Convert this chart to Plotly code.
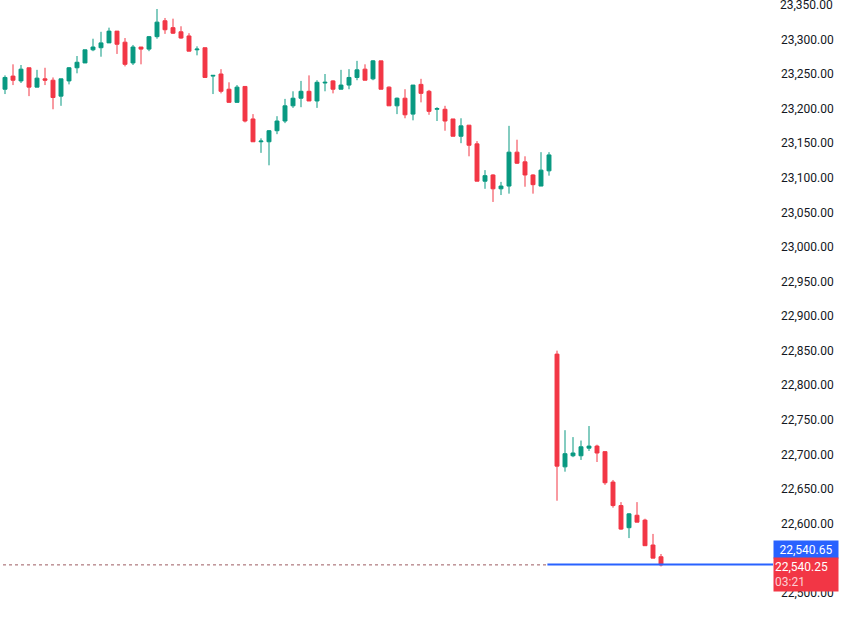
import plotly.graph_objects as go

opens = [23228,23247,23240,23259,23231,23243,23241,23218,23240,23259,23266,23285,23288,23295,23312,23296,23266,23289,23286,23304,
 23327,23317,23311,23305,23285,23288,23247,23250,23228,23209,23232,23185,23152,23152,23168,23182,23204,23215,23225,23211,
 23237,23240,23228,23234,23245,23257,23243,23269,23231,23204,23215,23192,23235,23225,23199,23199,23185,23160,23176,23149,
 23095,23104,23084,23088,23137,23123,23104,23088,23110,
 22845,22682,22698,22698,22709,22712,22704,22660,22626,22594,22612,22605,22569,22552]
highs = [23248,23264,23263,23259,23256,23259,23245,23243,23260,23276,23285,23301,23311,23317,23312,23302,23292,23289,23305,23344,
 23331,23330,23319,23309,23290,23288,23248,23257,23238,23234,23232,23192,23157,23169,23189,23214,23225,23240,23248,23241,
 23250,23241,23256,23257,23269,23264,23270,23269,23232,23216,23228,23234,23243,23227,23202,23204,23185,23186,23176,23153,
 23111,23105,23094,23175,23155,23131,23105,23137,23137,
 22850,22735,22725,22720,22741,22714,22704,22663,22631,22615,22631,22607,22585,22556]
lows = [23221,23234,23237,23218,23231,23234,23199,23204,23235,23251,23266,23283,23275,23295,23279,23261,23263,23264,23283,23301,
 23308,23308,23301,23283,23277,23245,23221,23222,23209,23209,23180,23152,23136,23118,23163,23179,23201,23202,23211,23201,
 23225,23222,23228,23228,23241,23241,23241,23228,23204,23192,23186,23183,23209,23191,23182,23168,23160,23150,23131,23095,
 23084,23065,23075,23077,23120,23087,23077,23088,23103,
 22633,22675,22696,22692,22705,22689,22656,22623,22591,22579,22602,22568,22550,22538]
closes = [23245,23241,23257,23231,23244,23241,23216,23243,23259,23267,23285,23289,23295,23312,23293,23264,23289,23286,23304,23325,
 23314,23309,23302,23283,23286,23245,23248,23225,23209,23231,23182,23152,23153,23168,23182,23204,23215,23225,23211,23238,
 23238,23228,23234,23245,23256,23241,23269,23228,23204,23215,23191,23234,23222,23196,23200,23182,23160,23175,23147,23095,
 23103,23084,23088,23137,23121,23104,23090,23111,23133,
 22683,22701,22702,22711,22712,22702,22659,22626,22592,22614,22602,22568,22550,22540.25]
x = list(range(len(opens)))
last_price = 22540.25
bid_price = 22540.65
tick_vals = list(range(22500, 23301, 50))
top_tick = 23350
session_start = 69

up, down, blue = "#089981", "#F23645", "#2962FF"
tickfont = dict(color="#131722", size=12, family="Roboto")

fig = go.Figure(go.Candlestick(
    x=x, open=opens, high=highs, low=lows, close=closes,
    increasing=dict(line=dict(color=up, width=1), fillcolor=up),
    decreasing=dict(line=dict(color=down, width=1), fillcolor=down),
    whiskerwidth=0, showlegend=False, hoverinfo="skip"))

fig.add_shape(type="line", xref="x", yref="y", x0=-1, x1=session_start - 1.2,
              y0=last_price, y1=last_price, line=dict(color="#9c5a60", width=1, dash="dot"))
fig.add_shape(type="line", xref="x", yref="y", x0=session_start - 1.2, x1=96,
              y0=bid_price, y1=bid_price, line=dict(color=blue, width=2))

fig.add_annotation(xref="paper", yref="y", x=1.0, y=top_tick, xanchor="left", yanchor="middle",
                   text=f"{top_tick:,.2f}", showarrow=False, font=tickfont, xshift=5)
fig.add_annotation(xref="paper", yref="y", x=1.0, y=22563, xanchor="left", yanchor="middle",
                   text=f"{bid_price:,.2f}", showarrow=False, bgcolor=blue,
                   font=dict(color="white", size=12, family="Roboto"), width=62, height=15, align="center")
fig.add_annotation(xref="paper", yref="y", x=1.0, y=22526, xanchor="left", yanchor="middle",
                   text=f"{last_price:,.2f}<br><span style='color:#fbd0d4'>03:21</span>", showarrow=False, bgcolor=down,
                   font=dict(color="white", size=12, family="Roboto"), width=62, height=31, align="left")

fig.update_layout(
    width=843, height=619, margin=dict(l=0, r=70, t=0, b=0, autoexpand=False),
    plot_bgcolor="white", paper_bgcolor="white",
    xaxis=dict(range=[-0.625, 96], visible=False, rangeslider=dict(visible=False)),
    yaxis=dict(range=[22462, 23357], side="right", tickvals=tick_vals, tickformat=",.2f",
               showgrid=False, zeroline=False, ticks="", showline=False, ticklabelstandoff=7,
               tickfont=tickfont),
)
fig.write_html("out.html", config={"displayModeBar": False},
               post_script="document.body.style.margin='0';")
